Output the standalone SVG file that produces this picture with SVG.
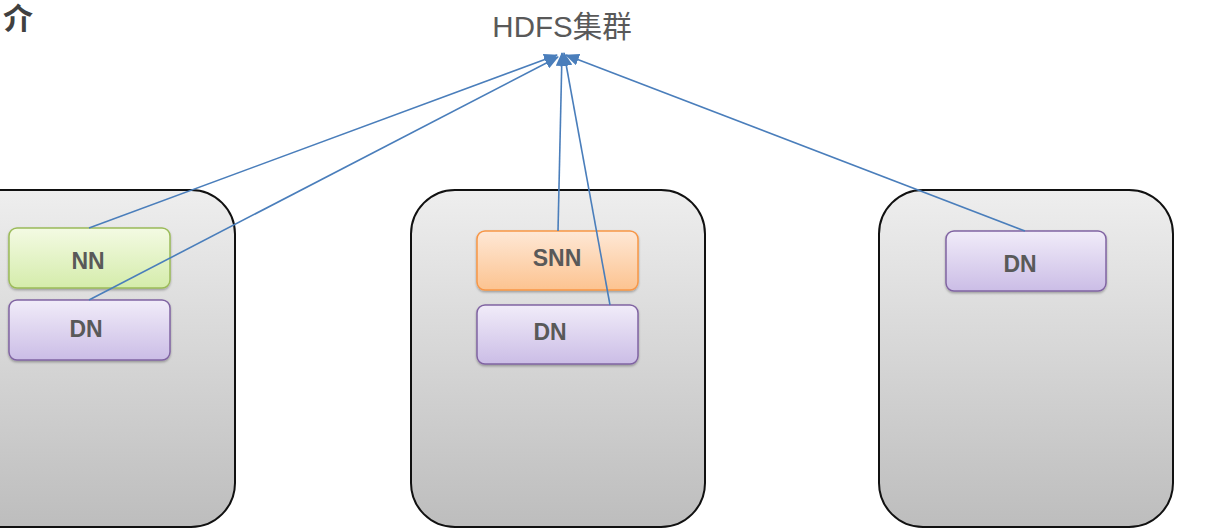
<svg xmlns="http://www.w3.org/2000/svg" width="1217" height="528" viewBox="0 0 1217 528">
<defs>
<linearGradient id="gHost" x1="0" y1="0" x2="0" y2="1"><stop offset="0" stop-color="#eeeeee"/><stop offset="1" stop-color="#bdbdbd"/></linearGradient>
<linearGradient id="gNN" x1="0" y1="0" x2="0" y2="1"><stop offset="0" stop-color="#f3fae3"/><stop offset="1" stop-color="#d5ecab"/></linearGradient>
<linearGradient id="gSNN" x1="0" y1="0" x2="0" y2="1"><stop offset="0" stop-color="#fee8d6"/><stop offset="1" stop-color="#fcc390"/></linearGradient>
<linearGradient id="gDN" x1="0" y1="0" x2="0" y2="1"><stop offset="0" stop-color="#f1ecf9"/><stop offset="1" stop-color="#cbbde6"/></linearGradient>
<marker id="arr" markerWidth="14" markerHeight="12" refX="13" refY="6" orient="auto" markerUnits="userSpaceOnUse"><path d="M0,0 L14,6 L0,12 z" fill="#4a7ebb"/></marker>
<filter id="sh" x="-10%" y="-10%" width="120%" height="130%"><feDropShadow dx="0" dy="1.5" stdDeviation="1.2" flood-color="#000" flood-opacity="0.3"/></filter>
</defs>
<style>
.host{fill:url(#gHost);stroke:#111;stroke-width:2}
.nd{stroke-width:1.5;filter:url(#sh)}
.nn{fill:url(#gNN);stroke:#9bbb59}
.snn{fill:url(#gSNN);stroke:#f79646}
.dn{fill:url(#gDN);stroke:#8064a2}
.lbl{font-family:"Liberation Sans",Arial,sans-serif;font-weight:bold;font-size:23px;fill:#595959;text-anchor:middle}
.edge{stroke:#4a7ebb;stroke-width:1.6;fill:none;marker-end:url(#arr)}
</style>
<rect width="1217" height="528" fill="#ffffff"/>
<text x="3" y="29" font-family="'Noto Sans CJK SC',sans-serif" font-weight="bold" font-size="30" fill="#404040">介</text>
<text x="562" y="37" font-family="'Liberation Sans','Noto Sans CJK SC',sans-serif" font-size="29.5" fill="#595959" text-anchor="middle">HDFS集群</text>
<g id="host1"><rect class="host" x="-59" y="190" width="294" height="337" rx="44"/></g>
<g id="host2"><rect class="host" x="411" y="190" width="294" height="337" rx="44"/></g>
<g id="host3"><rect class="host" x="879" y="190" width="294" height="337" rx="44"/></g>
<g id="nn"><rect class="nd nn" x="9" y="228" width="161" height="60" rx="8"/><text class="lbl" x="88" y="269">NN</text></g>
<g id="dn1"><rect class="nd dn" x="9" y="300" width="161" height="60" rx="8"/><text class="lbl" x="86" y="337">DN</text></g>
<g id="snn"><rect class="nd snn" x="477" y="231" width="161" height="59" rx="8"/><text class="lbl" x="557" y="266">SNN</text></g>
<g id="dn2"><rect class="nd dn" x="477" y="305" width="161" height="59" rx="8"/><text class="lbl" x="550" y="340">DN</text></g>
<g id="dn3"><rect class="nd dn" x="946" y="231" width="160" height="60" rx="8"/><text class="lbl" x="1020" y="272">DN</text></g>
<g id="connectors">
<line class="edge" x1="89" y1="228" x2="557" y2="55"/>
<line class="edge" x1="89" y1="300" x2="558" y2="57"/>
<line class="edge" x1="558" y1="231" x2="562" y2="53"/>
<line class="edge" x1="610" y1="305" x2="564" y2="53"/>
<line class="edge" x1="1025" y1="231" x2="566" y2="55"/>
</g>
</svg>
